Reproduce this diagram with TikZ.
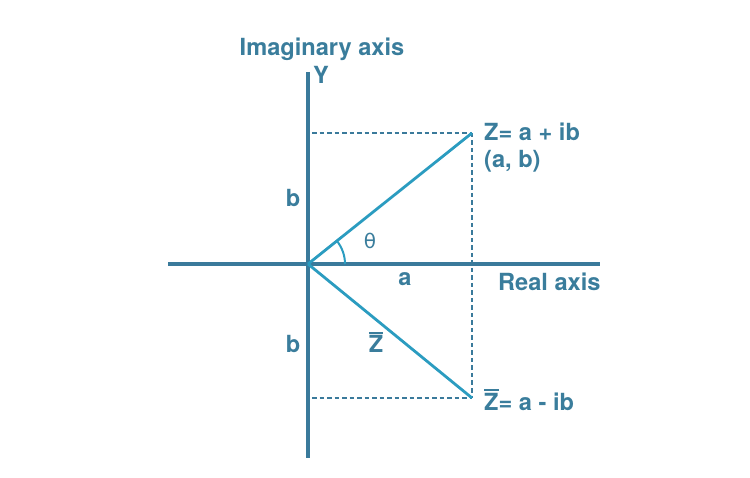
\documentclass[tikz,border=0pt]{standalone}
\usepackage{fontspec}
\usetikzlibrary{calc}
\setmainfont{TeX Gyre Heros}
\newfontfamily\greekfont{DejaVu Sans}
\definecolor{axiscol}{HTML}{3A7A9B}
\definecolor{veccol}{HTML}{2B9CC0}
\definecolor{txtcol}{HTML}{3A7D9C}
\newcommand{\barZ}{\vbox{\hrule height 1.8pt \kern 2.2pt \hbox{Z}}}
\tikzset{
  axisline/.style={draw=axiscol, line width=3.6pt},
  vecline/.style={draw=veccol, line width=2.8pt},
  guide/.style={draw=axiscol, line width=1.4pt, dash pattern=on 4.5pt off 3pt},
  lbl/.style={text=txtcol, font=\fontsize{23.6}{27}\selectfont\bfseries, inner sep=0pt},
}
\begin{document}
\begin{tikzpicture}[x=1pt,y=-1pt]
\useasboundingbox (0,0) rectangle (750,478);
% coordinates
\coordinate (O) at (308,264);
\coordinate (ytop) at (308,72);
\coordinate (ybot) at (308,458);
\coordinate (xl) at (168,264);
\coordinate (xr) at (600,264);
\coordinate (Z) at (472,133);
\coordinate (Zb) at (472,398);
\coordinate (gz) at (312,133);
\coordinate (gzb) at (312,398);
% guides
\draw[guide] (gz) -- (Z);
\draw[guide] (gzb) -- (Zb);
\draw[guide] (Z) -- (Zb);
% axes
\draw[axisline] (ytop) -- (ybot);
\draw[axisline] (xl) -- (xr);
% vectors
\draw[vecline] (O) -- (Z);
\draw[vecline] (O) -- (Zb);
% angle arc
\draw[draw=veccol, line width=2pt] ($(O)+(37,0)$) arc[start angle=0, end angle=-38.6, radius=37];
% labels
\node[lbl, anchor=base] (imag) at (322,56) {Imaginary axis};
\node[lbl, anchor=base] (ylab) at (321,84) {Y};
\node[lbl, anchor=base] (b1) at (293,207) {b};
\node[lbl, anchor=base] (b2) at (293,353) {b};
\node[lbl, anchor=base, font=\fontsize{20}{24}\selectfont\greekfont] (theta) at (370,249) {θ};
\node[lbl, anchor=base] (alab) at (405,286) {a};
\node[lbl, anchor=base west] (real) at (498,291) {Real axis};
\node[lbl, anchor=base west] (zlab) at (484,141) {Z= a + ib};
\node[lbl, anchor=base west] (ab) at (484,168) {(a, b)};
\node[lbl, anchor=base] (zbar) at (376,353) {\barZ};
\node[lbl, anchor=base west] (zblab) at (484,410) {\barZ= a - ib};
\end{tikzpicture}
\end{document}
